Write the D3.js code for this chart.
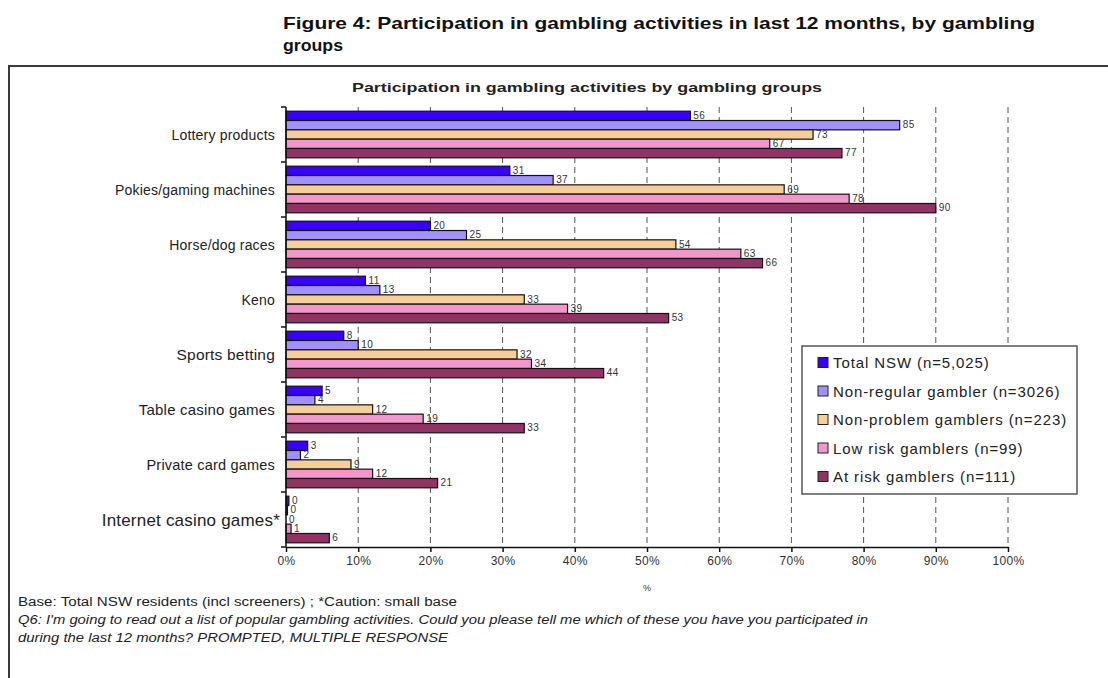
<!DOCTYPE html>
<html>
<head>
<meta charset="utf-8">
<script src="https://cdn.jsdelivr.net/npm/d3@7"></script>
<style>
  body { margin: 0; background: #fff; }
  text { font-family: "Liberation Sans", Arial, sans-serif; }
</style>
</head>
<body>
<svg id="chart"></svg>
<script>
// Data
const activities = [
    "Lottery products",
    "Pokies/gaming machines",
    "Horse/dog races",
    "Keno",
    "Sports betting",
    "Table casino games",
    "Private card games",
    "Internet casino games*"
];
const groups = [
    "Total NSW (n=5,025)",
    "Non-regular gambler (n=3026)",
    "Non-problem gamblers (n=223)",
    "Low risk gamblers (n=99)",
    "At risk gamblers (n=111)"
];
const totalNSW      = [56, 31, 20, 11, 8, 5, 3, 0.4];
const nonRegular    = [85, 37, 25, 13, 10, 4, 2, 0.2];
const nonProblem    = [73, 69, 54, 33, 32, 12, 9, 0];
const lowRisk       = [67, 78, 63, 39, 34, 19, 12, 0.7];
const atRisk        = [77, 90, 66, 53, 44, 33, 21, 6];
const groupColors   = ["#3a00ff", "#a190ff", "#f6cf98", "#f296cb", "#923365"];
const xTicks        = [0, 10, 20, 30, 40, 50, 60, 70, 80, 90, 100];

// the scanned labels are not all the same size
const labelSizes    = [14, 14, 14, 14, 15.5, 15, 14.5, 17];

const seriesValues = [totalNSW, nonRegular, nonProblem, lowRisk, atRisk];

const width = 1108;
const height = 678;
const margin = { top: 107, right: 100, bottom: 131, left: 286 };

const svg = d3.select("#chart")
    .attr("width", width)
    .attr("height", height);

// outer frame (only left + top visible)
svg.append("path")
    .attr("d", `M9,${height} V66 H${width}`)
    .attr("fill", "none")
    .attr("stroke", "#3a3a3a")
    .attr("stroke-width", 2);

// helper for text stretched to the width seen in the reference
function stretchedText(xPos, yPos, size, len, str) {
    return svg.append("text")
        .attr("x", xPos)
        .attr("y", yPos)
        .attr("font-size", size)
        .attr("textLength", len)
        .attr("lengthAdjust", "spacingAndGlyphs")
        .attr("fill", "#222")
        .text(str);
}

// Figure title
stretchedText(283, 29, 17, 752, "Figure 4: Participation in gambling activities in last 12 months, by gambling")
    .attr("font-weight", "bold").attr("fill", "#111");
stretchedText(283, 51, 17, 60, "groups")
    .attr("font-weight", "bold").attr("fill", "#111");

// Chart title
stretchedText(352, 92, 13, 470, "Participation in gambling activities by gambling groups")
    .attr("font-weight", "bold");

const x = d3.scaleLinear()
    .domain([0, 100])
    .range([286, 1008]);

const y0 = d3.scaleBand()
    .domain(activities)
    .range([margin.top, height - margin.bottom])
    .padding(0);

const y1 = d3.scaleBand()
    .domain(d3.range(groups.length))
    .range([0, y0.bandwidth()])
    .paddingInner(0)
    .paddingOuter(0.45);

const plotBottom = height - margin.bottom;

// dashed gridlines
svg.append("g")
    .selectAll("line")
    .data(xTicks.filter(d => d > 0))
    .join("line")
    .attr("x1", d => x(d)).attr("x2", d => x(d))
    .attr("y1", margin.top).attr("y2", plotBottom)
    .attr("stroke", "#555")
    .attr("stroke-width", 1)
    .attr("stroke-dasharray", "6,4");

// bars
const rows = activities.map((a, i) => ({
    activity: a,
    values: seriesValues.map((s, j) => ({ group: j, value: s[i] }))
}));

const rowG = svg.append("g")
    .selectAll("g")
    .data(rows)
    .join("g")
    .attr("transform", d => `translate(0,${y0(d.activity)})`);

rowG.selectAll("rect")
    .data(d => d.values)
    .join("rect")
    .attr("x", x(0))
    .attr("y", d => y1(d.group))
    .attr("width", d => x(d.value) - x(0))
    .attr("height", y1.bandwidth())
    .attr("fill", d => groupColors[d.group])
    .attr("stroke", d => d.value > 0 ? "#111" : "none")
    .attr("stroke-width", 1.2);

rowG.selectAll("text")
    .data(d => d.values)
    .join("text")
    .attr("x", d => x(d.value) + 3)
    .attr("y", d => y1(d.group) + y1.bandwidth() / 2 + 3)
    .attr("font-size", 10)
    .attr("letter-spacing", 0.4)
    .attr("fill", "#333")
    .text(d => Math.round(d.value));

// x axis
const xAxis = svg.append("g")
    .attr("transform", `translate(0,${plotBottom})`)
    .call(d3.axisBottom(x).tickValues(xTicks).tickFormat(d => d + "%").tickSize(5).tickSizeOuter(0));
xAxis.select(".domain").attr("stroke", "#111").attr("stroke-width", 1.5);
xAxis.selectAll(".tick line").attr("stroke", "#111").attr("stroke-width", 1.5);
xAxis.selectAll(".tick text")
    .attr("font-family", "'Liberation Sans', Arial, sans-serif")
    .attr("font-size", 12)
    .attr("letter-spacing", 0.3)
    .attr("fill", "#333")
    .attr("dy", "0.85em");

svg.append("text")
    .attr("x", 647)
    .attr("y", 591)
    .attr("text-anchor", "middle")
    .attr("font-size", 9)
    .attr("fill", "#333")
    .text("%");

// y axis with boundary ticks
const yAxis = svg.append("g");
yAxis.append("line")
    .attr("x1", x(0)).attr("x2", x(0))
    .attr("y1", margin.top).attr("y2", plotBottom)
    .attr("stroke", "#111").attr("stroke-width", 1.5);
yAxis.selectAll("line.tick")
    .data(activities.map(a => y0(a)).concat([plotBottom]))
    .join("line")
    .attr("class", "tick")
    .attr("x1", x(0) - 5).attr("x2", x(0))
    .attr("y1", d => d).attr("y2", d => d)
    .attr("stroke", "#111").attr("stroke-width", 1.5);

svg.append("g")
    .selectAll("text")
    .data(activities)
    .join("text")
    .attr("x", (d, i) => i === activities.length - 1 ? 280 : 275)
    .attr("y", (d, i) => y0(d) + y0.bandwidth() / 2 + labelSizes[i] * 0.36)
    .attr("text-anchor", "end")
    .attr("font-size", (d, i) => labelSizes[i])
    .attr("letter-spacing", 0.2)
    .attr("fill", "#222")
    .text(d => d);

// legend
const legend = svg.append("g").attr("transform", "translate(802,346)");
legend.append("rect")
    .attr("width", 275)
    .attr("height", 148)
    .attr("fill", "#fff")
    .attr("stroke", "#555")
    .attr("stroke-width", 1.5);

const legendItems = legend.selectAll("g")
    .data(groups)
    .join("g")
    .attr("transform", (d, i) => `translate(16,${17 + i * 28.5})`);

legendItems.append("rect")
    .attr("y", -5.5)
    .attr("width", 10)
    .attr("height", 10)
    .attr("fill", (d, i) => groupColors[i])
    .attr("stroke", "#222")
    .attr("stroke-width", 1);

legendItems.append("text")
    .attr("x", 15)
    .attr("y", 5)
    .attr("font-size", 15)
    .attr("letter-spacing", 0.9)
    .attr("fill", "#222")
    .text(d => d);

// footnotes
stretchedText(18, 606, 12, 439, "Base: Total NSW residents (incl screeners) ;  *Caution: small base");
stretchedText(18, 624, 12, 850, "Q6: I'm going to read out a list of popular gambling activities. Could you please tell me which of these you have you participated in")
    .attr("font-style", "italic");
stretchedText(18, 642, 12, 430, "during the last 12 months? PROMPTED, MULTIPLE RESPONSE")
    .attr("font-style", "italic");
</script>
</body>
</html>
